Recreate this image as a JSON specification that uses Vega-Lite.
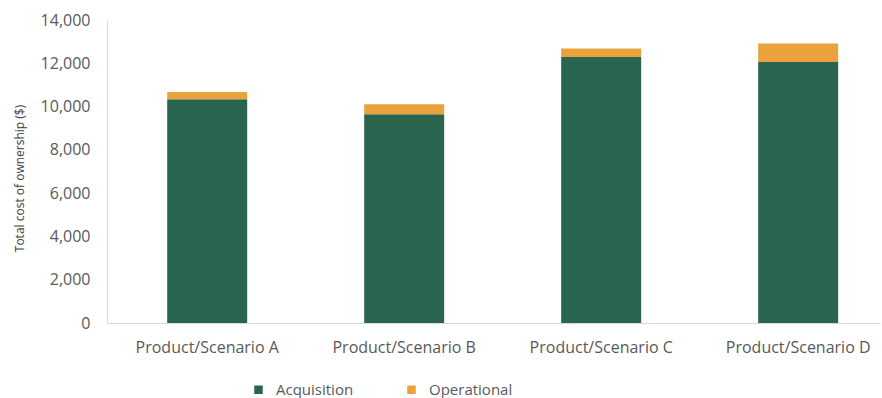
{
  "$schema": "https://vega.github.io/schema/vega-lite/v6.json",
  "autosize": {"type": "none"},
  "width": 773,
  "height": 303,
  "padding": {"left": 107, "top": 20, "right": 2, "bottom": 75},
  "background": "white",
  "data": {
    "values": [
      {"product": "Product/Scenario A", "component": "Acquisition", "cost": 10340},
      {"product": "Product/Scenario A", "component": "Operational", "cost": 337},
      {"product": "Product/Scenario B", "component": "Acquisition", "cost": 9650},
      {"product": "Product/Scenario B", "component": "Operational", "cost": 460},
      {"product": "Product/Scenario C", "component": "Acquisition", "cost": 12290},
      {"product": "Product/Scenario C", "component": "Operational", "cost": 390},
      {"product": "Product/Scenario D", "component": "Acquisition", "cost": 12060},
      {"product": "Product/Scenario D", "component": "Operational", "cost": 850}
    ]
  },
  "mark": {"type": "bar"},
  "encoding": {
    "x": {
      "field": "product",
      "type": "nominal",
      "sort": null,
      "scale": {"paddingInner": 0.594, "paddingOuter": 0.259, "align": 0.59},
      "axis": {
        "title": null,
        "labelAngle": 0,
        "ticks": false,
        "domainColor": "#d9d9d9",
        "labelFont": "Open Sans",
        "labelFontSize": 16,
        "labelColor": "#595959",
        "labelPadding": 16
      }
    },
    "y": {
      "field": "cost",
      "type": "quantitative",
      "stack": "zero",
      "scale": {"domain": [0, 14000]},
      "axis": {
        "title": "Total cost of ownership ($)",
        "titleFont": "Open Sans",
        "titleFontSize": 12,
        "titleFontWeight": "normal",
        "titleColor": "#404040",
        "titleX": -81,
        "titleY": 158,
        "values": [0, 2000, 4000, 6000, 8000, 10000, 12000, 14000],
        "format": ",d",
        "grid": false,
        "ticks": false,
        "domainColor": "#d9d9d9",
        "labelFont": "Open Sans",
        "labelFontSize": 16,
        "labelColor": "#595959",
        "labelPadding": 17
      }
    },
    "color": {
      "field": "component",
      "type": "nominal",
      "scale": {"domain": ["Acquisition", "Operational"], "range": ["#29644f", "#eaa23c"]},
      "legend": {
        "title": null,
        "orient": "none",
        "direction": "horizontal",
        "legendX": 144,
        "legendY": 362,
        "symbolType": "square",
        "symbolSize": 72,
        "symbolStrokeWidth": 0,
        "labelFont": "Open Sans",
        "labelFontSize": 15,
        "labelColor": "#595959",
        "labelOffset": 10,
        "columnPadding": 50
      }
    },
    "order": {"field": "component", "sort": "ascending"}
  },
  "config": {"view": {"stroke": null}}
}
